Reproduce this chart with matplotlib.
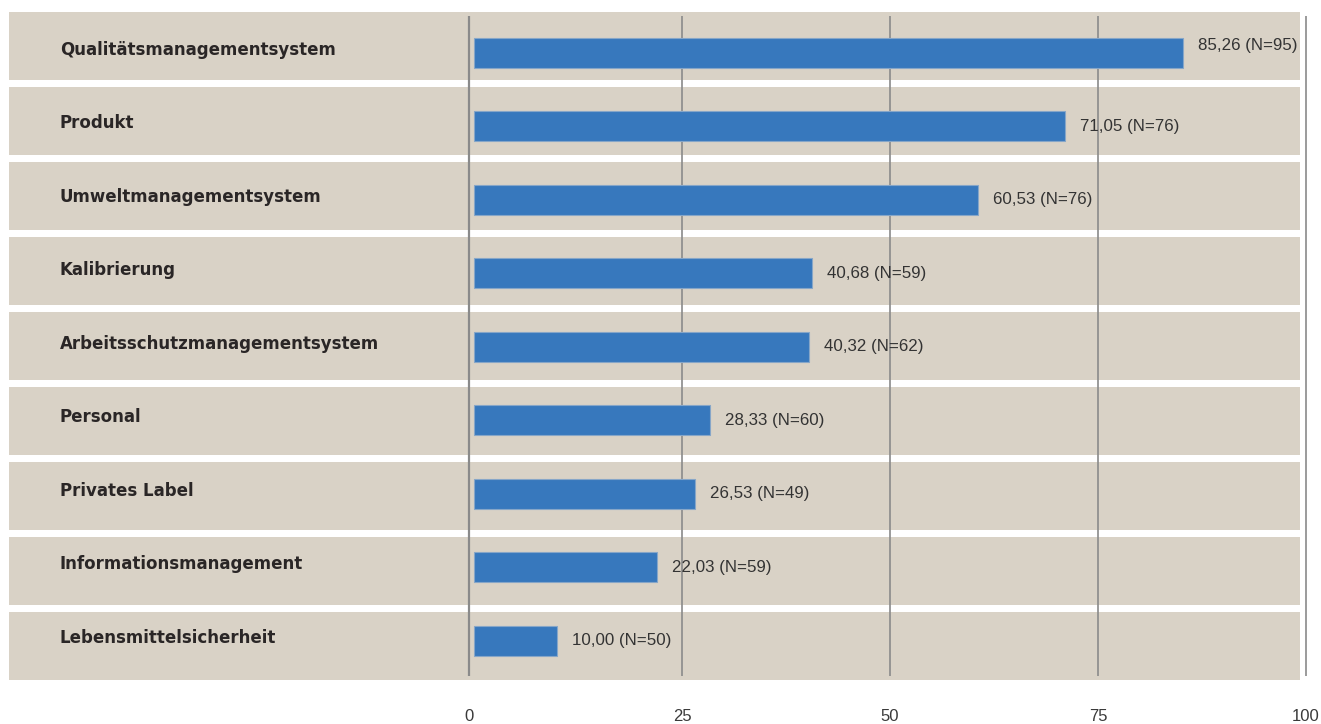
"""
Horizontal bar chart: Anteil der Zertifizierungsbereiche (in %).
"""

import matplotlib
matplotlib.use("Agg")
import matplotlib.pyplot as plt
import matplotlib.transforms as mtransforms
import numpy as np

categories = [
    "Qualitätsmanagementsystem",
    "Produkt",
    "Umweltmanagementsystem",
    "Kalibrierung",
    "Arbeitsschutzmanagementsystem",
    "Personal",
    "Privates Label",
    "Informationsmanagement",
    "Lebensmittelsicherheit",
]
values = [85.26, 71.05, 60.53, 40.68, 40.32, 28.33, 26.53, 22.03, 10.00]
counts = [95, 76, 76, 59, 62, 60, 49, 59, 50]
grid_ticks = [0, 25, 50, 75, 100]

BAND = "#d9d2c6"
BAR = "#3778bd"
GRID = "#8a8a8a"
TEXT = "#2a2626"
NARROW = ["Liberation Sans", "DejaVu Sans"]

# pixel layout of the plot region
W, H = 1321, 724
left_px, right_px, top_px, bottom_px = 9, 1300, 12, 680
zero_px, px_per_unit = 474, 8.32

fig = plt.figure(figsize=(W / 100, H / 100), dpi=100)
fig.patch.set_facecolor("white")
ax = fig.add_axes([left_px / W, 1 - bottom_px / H,
                   (right_px - left_px) / W, (bottom_px - top_px) / H])
ax.set_facecolor("none")
for s in ax.spines.values():
    s.set_visible(False)
ax.set_xticks([])
ax.set_yticks([])

x0 = -(zero_px - left_px) / px_per_unit
x1 = (right_px - zero_px) / px_per_unit
ax.set_xlim(x0, x1)

n = len(categories)
rows = np.arange(n)
band_h = 68 / 74.875
ax.set_ylim(n - 1 + band_h / 2, -band_h / 2)

# beige row bands
ax.barh(rows, x1 - x0, left=x0, height=band_h, color=BAND, zorder=1)

# vertical grid lines
xt = ax.get_xaxis_transform()
for t in grid_ticks:
    tr = xt
    if t == 0:
        tr = xt + mtransforms.ScaledTranslation(-4.5 / 100, 0, fig.dpi_scale_trans)
    ax.plot([t, t], [0.006, 0.994], transform=tr, color=GRID,
            lw=1.6 if t == 0 else 1.2, zorder=2, clip_on=False,
            solid_capstyle="butt")
    ax.text(t, -0.054, str(t), transform=tr, ha="center", va="center",
            fontsize=12, family=NARROW, color="#3a3a3a")

# bars and labels sit on a slightly tighter pitch than the bands
mark_rows = rows * 0.98 + 0.09
ax.barh(mark_rows, values, height=0.4, color=BAR, edgecolor="#86a6c8",
        linewidth=0.8, zorder=3)

for y, cat, v, c in zip(mark_rows, categories, values, counts):
    ax.text(x0 + (60 - left_px) / px_per_unit, y - 0.04, cat, ha="left",
            va="center", fontsize=12, fontweight="bold", color=TEXT,
            family="DejaVu Sans", zorder=4)
    lbl = f"{v:.2f}".replace(".", ",") + f" (N={c})"
    tr = ax.transData
    if v > 80:
        tr = tr + mtransforms.ScaledTranslation(0, 7 / 100, fig.dpi_scale_trans)
    ax.text(v + 15 / px_per_unit, y, lbl, transform=tr, ha="left",
            va="center", fontsize=12.2, family=NARROW, color="#333333",
            zorder=4)

fig.savefig("out.png", dpi=100, facecolor="white")
